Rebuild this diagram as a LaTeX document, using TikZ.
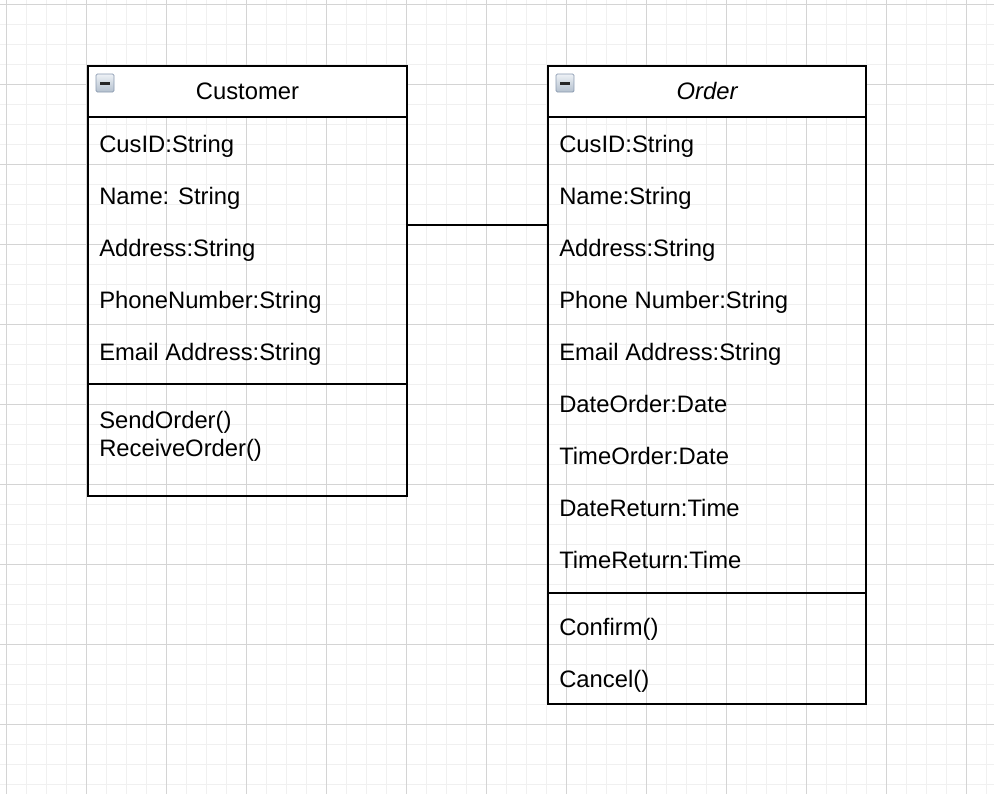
\documentclass[tikz,border=0pt]{standalone}
\usepackage{fontspec}
\setmainfont{Liberation Sans}
\usetikzlibrary{fit}
\definecolor{gridminor}{HTML}{F0F0F0}
\definecolor{gridmajor}{HTML}{D4D4D4}
\definecolor{iconborder}{HTML}{8A9AB0}
\definecolor{icontop}{HTML}{EEF2F6}
\definecolor{iconbot}{HTML}{B4C0CE}
\begin{document}
\begin{tikzpicture}[x=0.75pt,y=-0.75pt,
  every node/.style={font=\fontsize{17.85}{21}\selectfont, inner sep=0pt},
  boxline/.style={line width=1.5pt, black},
  attr/.style={anchor=base west},
  icon/.style={draw=iconborder, line width=0.6pt, top color=icontop, bottom color=iconbot, rounded corners=1pt}]
\useasboundingbox (0,0) rectangle (994,794);
\fill[white] (0,0) rectangle (994,794);
% grid
\foreach \x in {6,26,...,994} \draw[gridminor, line width=0.75pt] (\x,0) -- (\x,794);
\foreach \y in {4,24,...,794} \draw[gridminor, line width=0.75pt] (0,\y) -- (994,\y);
\foreach \x in {6,86,...,994} \draw[gridmajor, line width=0.75pt] (\x,0) -- (\x,794);
\foreach \y in {4,84,...,794} \draw[gridmajor, line width=0.75pt] (0,\y) -- (994,\y);
% Customer class
\fill[white] (88,66) rectangle (407,117);
\node[fit={(88,66) (407,496)}, draw, boxline] (cust) {};
\draw[boxline] (88,117) -- (407,117);
\draw[boxline] (88,384) -- (407,384);
\draw[icon] (96,74) rectangle (114,92);
\fill[black!85] (100,82) rectangle (110,84.5);
\node[anchor=base] (custname) at (247.5,99) {Customer};
\node[attr] (c1) at (99,152) {CusID:String};
\node[attr] (c2) at (99,204) {Name: String};
\node[attr] (c3) at (99,256) {Address:String};
\node[attr] (c4) at (99,308) {PhoneNumber:String};
\node[attr] (c5) at (99,360) {Email Address:String};
\node[attr] (m1) at (99,428) {SendOrder()};
\node[attr] (m2) at (99,456) {ReceiveOrder()};
% Order class
\fill[white] (548,66) rectangle (866,117);
\node[fit={(548,66) (866,704)}, draw, boxline] (ord) {};
\draw[boxline] (548,117) -- (866,117);
\draw[boxline] (548,593) -- (866,593);
\draw[icon] (556,74) rectangle (574,92);
\fill[black!85] (560,82) rectangle (570,84.5);
\node[anchor=base, font=\fontsize{17.85}{21}\selectfont\itshape] (ordname) at (707,99) {Order};
\node[attr] (o1) at (559,152) {CusID:String};
\node[attr] (o2) at (559,204) {Name:String};
\node[attr] (o3) at (559,256) {Address:String};
\node[attr] (o4) at (559,308) {Phone Number:String};
\node[attr] (o5) at (559,360) {Email Address:String};
\node[attr] (o6) at (559,412) {DateOrder:Date};
\node[attr] (o7) at (559,464) {TimeOrder:Date};
\node[attr] (o8) at (559,516) {DateReturn:Time};
\node[attr] (o9) at (559,568) {TimeReturn:Time};
\node[attr] (p1) at (559,635) {Confirm()};
\node[attr] (p2) at (559,687) {Cancel()};
% association
\draw[boxline] (cust.east |- 0,225) -- (ord.west |- 0,225);
\end{tikzpicture}
\end{document}
